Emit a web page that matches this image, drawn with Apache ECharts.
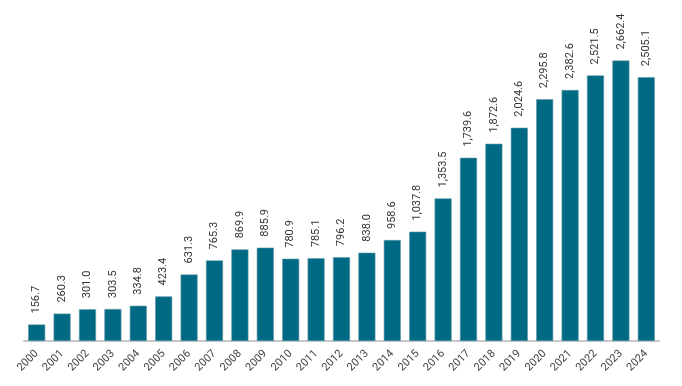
<!DOCTYPE html>
<html><head><meta charset="utf-8">
<script src="https://cdn.jsdelivr.net/npm/echarts@6/dist/echarts.min.js"></script>
<style>html,body{margin:0;padding:0;background:#fff}#c{width:682px;height:386px}</style>
</head><body><div id="c"></div>
<script>
const years = ['2000','2001','2002','2003','2004','2005','2006','2007','2008','2009','2010','2011','2012','2013','2014','2015','2016','2017','2018','2019','2020','2021','2022','2023','2024'];
const values = [156.7,260.3,301.0,303.5,334.8,423.4,631.3,765.3,869.9,885.9,780.9,785.1,796.2,838.0,958.6,1037.8,1353.5,1739.6,1872.6,2024.6,2295.8,2382.6,2521.5,2662.4,2505.1];
const fmt = v => v.toLocaleString('en-US',{minimumFractionDigits:1,maximumFractionDigits:1});
const FONT = "Roboto, sans-serif";
const chart = echarts.init(document.getElementById('c'));
chart.setOption({
  animation:false,
  grid:{left:24,right:23,top:25,bottom:45,containLabel:false},
  xAxis:{type:'category',data:years,
    axisLine:{lineStyle:{color:'#c8c8c8',width:2}},
    axisTick:{show:false},
    axisLabel:{rotate:45,color:'#444',fontSize:11,fontFamily:FONT,margin:11,interval:0}},
  yAxis:{type:'value',min:0,max:3000,show:false,splitLine:{show:false}},
  series:[{type:'bar',data:values,barCategoryGap:'33%',
    itemStyle:{color:'#006a84',borderColor:'#5f97a8',borderWidth:0.6},
    label:{show:true,position:'top',rotate:90,align:'left',verticalAlign:'middle',distance:11,
      color:'#333',fontSize:11,fontFamily:FONT,formatter:p=>fmt(p.value)}}]
});
</script></body></html>
